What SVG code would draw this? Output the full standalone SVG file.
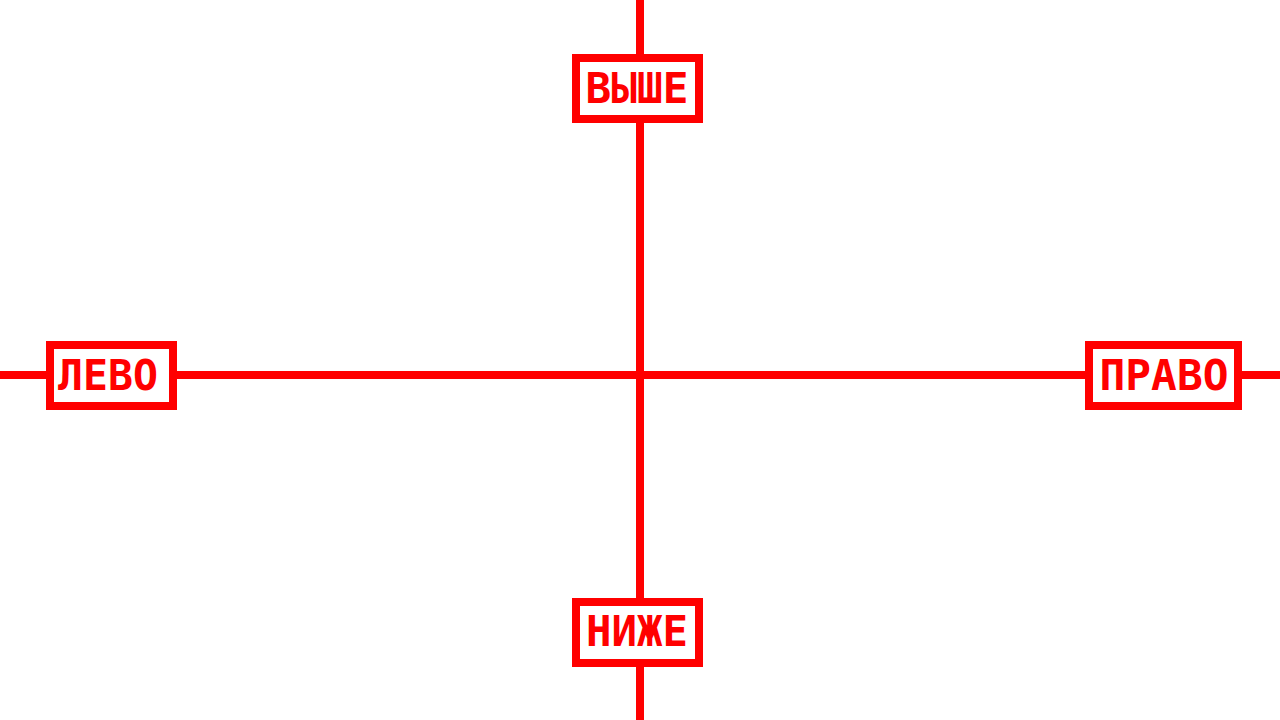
<svg xmlns="http://www.w3.org/2000/svg" width="1280" height="720" viewBox="0 0 1280 720">
<style>
.ln{stroke:#ff0000;stroke-width:8;fill:none}
.box{fill:#ffffff;stroke:#ff0000;stroke-width:8}
.lbl{font-family:"DejaVu Sans Mono","Liberation Mono",monospace;font-weight:bold;font-size:43px;fill:#ff0000;text-anchor:middle}
</style>
<rect width="1280" height="720" fill="#ffffff"/>
<g id="connectors">
<line class="ln" x1="640" y1="0" x2="640" y2="720"/>
<line class="ln" x1="0" y1="375" x2="1280" y2="375"/>
</g>
<g id="top">
<rect class="box" x="576" y="58" width="123" height="61"/>
<text class="lbl" x="637" y="103" textLength="103" lengthAdjust="spacingAndGlyphs">ВЫШЕ</text>
</g>
<g id="left">
<rect class="box" x="50" y="345" width="123" height="61"/>
<text class="lbl" x="108" y="390" textLength="100" lengthAdjust="spacingAndGlyphs">ЛЕВО</text>
</g>
<g id="right">
<rect class="box" x="1089" y="345" width="149" height="61"/>
<text class="lbl" x="1164" y="390" textLength="129" lengthAdjust="spacingAndGlyphs">ПРАВО</text>
</g>
<g id="bottom">
<rect class="box" x="576" y="602" width="123" height="61"/>
<text class="lbl" x="637" y="646" textLength="102" lengthAdjust="spacingAndGlyphs">НИЖЕ</text>
</g>
</svg>
